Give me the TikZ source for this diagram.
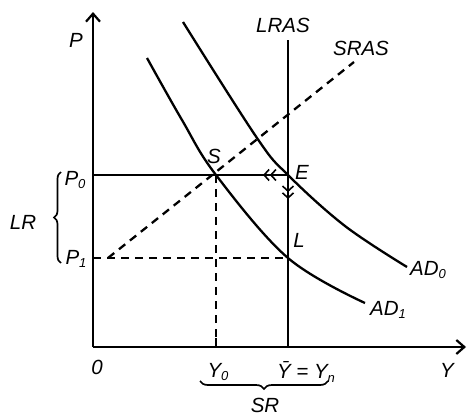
\documentclass[tikz,border=0pt]{standalone}
\usepackage{fontspec}
\setmainfont{Liberation Sans}
\usetikzlibrary{arrows.meta,decorations.pathreplacing}
\newcommand{\sbs}[1]{\raisebox{-0.35ex}{\fontsize{13}{13}\selectfont #1}}
\begin{document}
\begin{tikzpicture}[x=1pt,y=-1pt,
  axis/.style={line width=2.6pt,-{Straight Barb[length=8pt,width=14pt,line width=2.2pt]}},
  curve/.style={line width=2.3pt},
  dashline/.style={line width=2.3pt,dash pattern=on 8pt off 6pt},
  lbl/.style={font=\fontsize{20.5}{22}\selectfont\itshape,inner sep=1pt},
  chev/.style={line width=1.6pt,-{Straight Barb[length=5pt,width=11pt]Straight Barb[length=5pt,width=11pt]}}]
\useasboundingbox (0,0) rectangle (467,415);
% key points
\coordinate (O) at (93,347);
\coordinate (Ytip) at (466,347);
\coordinate (Ptip) at (93,12);
\coordinate (P0) at (93,175);
\coordinate (P1) at (93,258);
\coordinate (S) at (216,175);
\coordinate (E) at (288,175);
\coordinate (L) at (288,258);
\coordinate (Y0) at (216,347);
\coordinate (Yn) at (288,347);
\coordinate (LRtop) at (288,40);
\coordinate (SRs) at (108,258);
\coordinate (SRe) at (354,62);
% axes
\draw[axis] (O) -- (Ptip);
\draw[axis] (O) -- (Ytip);
% LRAS
\draw[curve] (LRtop) -- (Yn);
% P0 line
\draw[curve] (P0) -- (E);
% dashed
\draw[dashline] (P1) -- (L);
\draw[dashline] (S) -- (Y0);
\draw[dashline] (SRs) -- (SRe);
% tick at Y0
\draw[line width=1.8pt] (Y0) -- ++(0,-9);
% AD curves
\draw[curve] plot[smooth,tension=0.6] coordinates {(147,58) (182,120) (S) (L) (365,303)};
\draw[curve] plot[smooth,tension=0.6] coordinates {(183,22) (257,138) (E) (345,226) (407,267)};
% adjustment arrows
\draw[chev] (283,175) -- (263,175);
\draw[chev] (288,181) -- (288,199);
% labels
\node[lbl] (lP) at (76,40) {P};
\node[lbl] (lP0) at (75,180) {P\sbs{0}};
\node[lbl] (lP1) at (76,259) {P\sbs{1}};
\node[lbl] (lLR) at (23,222) {LR};
\node[lbl] (l0) at (97,367) {0};
\node[lbl] (lY0) at (218,372) {Y\sbs{0}};
\node[lbl] (lYn) at (306,372) {\=Y = Y\sbs{n}};
\node[lbl] (lY) at (447,370) {Y};
\node[lbl] (lSR) at (265,405) {SR};
\node[lbl] (lLRAS) at (283,25) {LRAS};
\node[lbl] (lSRAS) at (361,48) {SRAS};
\node[lbl] (lS) at (214,156) {S};
\node[lbl] (lE) at (302,172) {E};
\node[lbl] (lL) at (299,240) {L};
\node[lbl] (lAD0) at (428,270) {AD\sbs{0}};
\node[lbl] (lAD1) at (388,310) {AD\sbs{1}};
% braces
\draw[line width=1.7pt,decorate,decoration={brace,amplitude=7pt}] (61,263) -- (61,172);
\draw[line width=1.7pt,decorate,decoration={brace,amplitude=8pt}] (328,381) -- (200,381);
\end{tikzpicture}
\end{document}
